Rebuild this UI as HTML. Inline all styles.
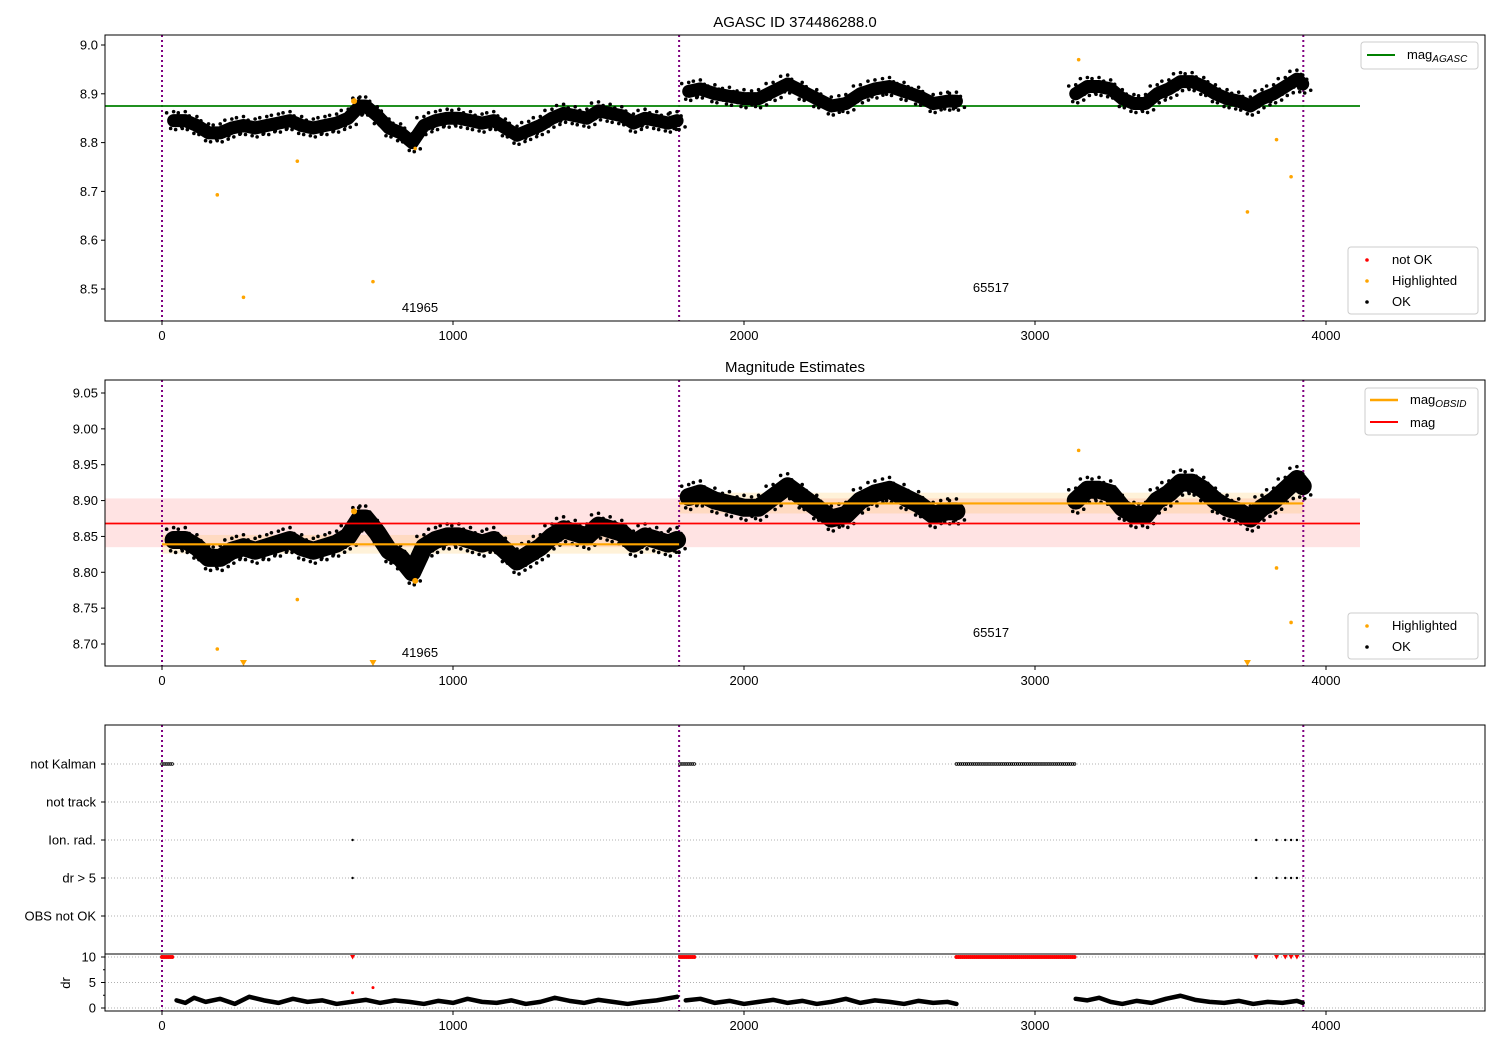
<!DOCTYPE html>
<html><head><meta charset="utf-8">
<style>
html,body{margin:0;padding:0;background:#fff;}
svg{display:block;font-family:"Liberation Sans","DejaVu Sans",sans-serif;}
</style></head>
<body>
<svg id="chart" width="1500" height="1050" viewBox="0 0 1500 1050"></svg>
<script>
// ---- data ----
const seg1X = [40,80,120,160,200,240,280,320,360,400,440,480,520,560,600,640,680,700,740,780,820,860,900,940,980,1020,1060,1100,1140,1180,1220,1260,1300,1340,1380,1420,1460,1500,1540,1580,1620,1660,1700,1740,1770];
const seg1Y = [8.845,8.845,8.835,8.82,8.82,8.83,8.835,8.83,8.835,8.84,8.845,8.835,8.83,8.835,8.84,8.85,8.875,8.875,8.855,8.83,8.82,8.80,8.835,8.845,8.85,8.85,8.845,8.84,8.845,8.83,8.815,8.825,8.835,8.85,8.86,8.855,8.85,8.865,8.86,8.855,8.84,8.85,8.845,8.84,8.845];
const seg2X = [1810,1850,1900,1950,2000,2050,2100,2150,2200,2250,2300,2350,2400,2450,2500,2550,2600,2650,2700,2730];
const seg2Y = [8.905,8.91,8.9,8.895,8.89,8.89,8.905,8.92,8.905,8.89,8.875,8.88,8.9,8.91,8.915,8.905,8.895,8.88,8.885,8.885];
const seg3X = [3140,3180,3220,3260,3300,3340,3380,3420,3460,3500,3540,3580,3620,3660,3700,3740,3780,3820,3860,3900,3920];
const seg3Y = [8.9,8.915,8.915,8.91,8.89,8.88,8.88,8.9,8.91,8.925,8.925,8.915,8.9,8.89,8.885,8.875,8.89,8.9,8.915,8.93,8.92];
const hiX = [190,280,465,725,870,3150,3730,3830,3880];
const hiY = [8.693,8.483,8.762,8.515,8.788,8.97,8.658,8.806,8.73];
const obsBounds = [0,1777,3922];
const obsIds = ["41965","65517"];
const magAgasc = 8.875;
const magMean = 8.868, magLo = 8.835, magHi = 8.903;
const obsMag = [8.839,8.896];
const obsLo = [8.826,8.882];
const obsHi = [8.852,8.911];
const nkRanges = [[0,40],[1780,1830],[2730,3140]];
const ionX = [655,3760,3830,3860,3880,3900];
const drRedX = [655,725];
const drRedY = [3,4];
const drX1 = [50,80,110,150,200,250,300,350,400,450,500,550,600,650,700,750,800,850,900,950,1000,1050,1100,1150,1200,1250,1300,1350,1400,1450,1500,1550,1600,1650,1700,1770];
const drY1 = [1.5,1.0,2.0,1.2,1.8,0.8,2.2,1.5,1.0,1.8,1.2,1.5,0.8,1.2,1.6,1.0,1.5,1.2,0.8,1.4,1.0,1.8,1.2,1.0,1.5,0.8,1.2,2.0,1.4,1.0,1.6,1.2,0.8,1.2,1.5,2.2];
const drX2 = [1800,1850,1900,1950,2000,2050,2100,2150,2200,2250,2300,2350,2400,2450,2500,2550,2600,2650,2700,2730];
const drY2 = [1.5,1.8,1.0,1.4,0.8,1.2,1.6,1.0,1.4,0.8,1.2,1.8,1.0,1.5,1.2,0.8,1.4,1.0,1.2,0.8];
const drX3 = [3140,3180,3220,3260,3300,3350,3400,3450,3500,3550,3600,3650,3700,3750,3800,3850,3900,3920];
const drY3 = [1.8,1.5,2.0,1.2,0.8,1.4,1.0,1.8,2.4,1.6,1.2,1.0,1.4,0.8,1.2,1.0,1.4,1.0];
const xTicks = [0,1000,2000,3000,4000];
const y1Ticks = [8.5,8.6,8.7,8.8,8.9,9.0];
const y2Ticks = [8.70,8.75,8.80,8.85,8.90,8.95,9.00,9.05];
const cats = ["not Kalman","not track","Ion. rad.","dr > 5","OBS not OK"];
const drTicks = [0,5,10];

// ---- helpers ----
const NS="http://www.w3.org/2000/svg";
const svg=document.getElementById('chart');
function mk(tag,attrs,parent){const e=document.createElementNS(NS,tag);for(const k in attrs)e.setAttribute(k,attrs[k]);(parent||svg).appendChild(e);return e;}
function txt(s,x,y,attrs,parent){const e=mk('text',Object.assign({x:x,y:y,'font-size':13,fill:'#000'},attrs||{}),parent);e.textContent=s;return e;}
const L=105,R=1485;
const X=v=>162+v*0.291;
const Y1=v=>45+(9.0-v)*488;
const Y2=v=>393+(9.05-v)*717.1;
const CY=i=>764+i*38;
const DR=v=>1008-v*5.1;

function frame(top,bottom,name){
  const r=mk('rect',{x:L,y:top,width:R-L,height:bottom-top,fill:'none',stroke:'#000','stroke-width':1});
  
  xTicks.forEach(t=>{mk('line',{x1:X(t),x2:X(t),y1:bottom,y2:bottom+4,stroke:'#000'});
    const e=txt(String(t),X(t),bottom+19,{'text-anchor':'middle'});});
}
function vlines(top,bottom){obsBounds.forEach(b=>{const l=mk('line',{x1:X(b),x2:X(b),y1:top,y2:bottom,stroke:'#800080','stroke-width':2,'stroke-dasharray':'2,3'});});}
const offs=[[-7,-1],[-3,1],[4,-0.6],[8,0.8],[0,-1.15],[2,1.15]];
function series(Yf,sw){
  [[seg1X,seg1Y],[seg2X,seg2Y],[seg3X,seg3Y]].forEach(([xs,ys])=>{
    const p=mk('polyline',{points:xs.map((x,i)=>X(x)+','+Yf(ys[i])).join(' '),fill:'none',stroke:'#000','stroke-width':sw,'stroke-linejoin':'round','stroke-linecap':'round'});
    
    xs.forEach((x,i)=>{offs.forEach(o=>{const c=mk('circle',{cx:X(x)+o[0],cy:Yf(ys[i])+o[1]*sw*0.6,r:1.8,fill:'#000'});});});
  });
}
function sublabel(main,sub,x,y,name){const e=mk('text',{x:x,y:y,'font-size':13,fill:'#000'});
  const t1=mk('tspan',{},e);t1.textContent=main;const t2=mk('tspan',{dy:3,'font-size':10,'font-style':'italic'},e);t2.textContent=sub;}

// ---- panel 1 ----
const t1=txt("AGASC ID 374486288.0",795,27,{'text-anchor':'middle','font-size':15});
vlines(35,321);
const ag=mk('line',{x1:L,x2:1360,y1:Y1(magAgasc),y2:Y1(magAgasc),stroke:'#008000','stroke-width':1.8});
series(Y1,13);
hiX.forEach((x,i)=>{const c=mk('circle',{cx:X(x),cy:Y1(hiY[i]),r:1.8,fill:'#ffa500'});});
mk('circle',{cx:X(660),cy:Y1(8.885),r:3,fill:'#ffa500'});
frame(35,321,'panel-agasc-frame');
y1Ticks.forEach(t=>{mk('line',{x1:L-4,x2:L,y1:Y1(t),y2:Y1(t),stroke:'#000'});const e=txt(t.toFixed(1),L-7,Y1(t)+4.5,{'text-anchor':'end'});});
let a=txt(obsIds[0],420,312,{'text-anchor':'middle'});
a=txt(obsIds[1],991,292,{'text-anchor':'middle'});
function legendBox(x,y,w,h,name){const r=mk('rect',{x:x,y:y,width:w,height:h,rx:3,fill:'#fff','fill-opacity':0.8,stroke:'#ccc'});}
legendBox(1361,42,117,27,'legend-agasc');
mk('line',{x1:1367,x2:1395,y1:55,y2:55,stroke:'#008000','stroke-width':2});
sublabel('mag','AGASC',1407,59,'legend-entry-mag-agasc');
function ptLegend(x,y,items,name){legendBox(x,y,130,items.length*21+4,name);
  items.forEach((it,i)=>{mk('circle',{cx:x+19,cy:y+13+i*21,r:1.8,fill:it[1]});const e=txt(it[0],x+44,y+17+i*21,{});});}
ptLegend(1348,247,[['not OK','#ff0000'],['Highlighted','#ffa500'],['OK','#000']],'legend-points-1');

// ---- panel 2 ----
const t2=txt("Magnitude Estimates",795,372,{'text-anchor':'middle','font-size':15});
let b=mk('rect',{x:L,y:Y2(magHi),width:1360-L,height:Y2(magLo)-Y2(magHi),fill:'#ff0000','fill-opacity':0.11});
[0,1].forEach(i=>{const r=mk('rect',{x:X(obsBounds[i]),y:Y2(obsHi[i]),width:X(obsBounds[i+1])-X(obsBounds[i]),height:Y2(obsLo[i])-Y2(obsHi[i]),fill:'#ffa500','fill-opacity':0.15});});
vlines(380,666);
series(Y2,18);
[0,1].forEach(i=>{const l=mk('line',{x1:X(obsBounds[i]),x2:X(obsBounds[i+1]),y1:Y2(obsMag[i]),y2:Y2(obsMag[i]),stroke:'#ffa500','stroke-width':2.2});});
const ml=mk('line',{x1:L,x2:1360,y1:Y2(magMean),y2:Y2(magMean),stroke:'#ff0000','stroke-width':1.8});
hiX.forEach((x,i)=>{
  if(hiY[i]>=8.67){const c=mk('circle',{cx:X(x),cy:Y2(hiY[i]),r:1.8,fill:'#ffa500'});}
  else{const yy=663;const p=mk('polygon',{points:`${X(x)-3.5},${yy-3} ${X(x)+3.5},${yy-3} ${X(x)},${yy+3}`,fill:'#ffa500'});}
});
mk('circle',{cx:X(660),cy:Y2(8.885),r:3,fill:'#ffa500'});
mk('circle',{cx:X(870),cy:Y2(8.788),r:3,fill:'#ffa500'});
frame(380,666,'panel-estimates-frame');
y2Ticks.forEach(t=>{mk('line',{x1:L-4,x2:L,y1:Y2(t),y2:Y2(t),stroke:'#000'});const e=txt(t.toFixed(2),L-7,Y2(t)+4.5,{'text-anchor':'end'});});
a=txt(obsIds[0],420,657,{'text-anchor':'middle'});
a=txt(obsIds[1],991,637,{'text-anchor':'middle'});
legendBox(1365,388,113,47,'legend-estimates');
mk('line',{x1:1370,x2:1398,y1:400,y2:400,stroke:'#ffa500','stroke-width':2.5});
sublabel('mag','OBSID',1410,404,'legend-entry-mag-obsid');
mk('line',{x1:1370,x2:1398,y1:422,y2:422,stroke:'#ff0000','stroke-width':2});
a=txt('mag',1410,427,{});
ptLegend(1348,613,[['Highlighted','#ffa500'],['OK','#000']],'legend-points-2');

// ---- panel 3 ----
cats.forEach((c,i)=>{mk('line',{x1:L,x2:R,y1:CY(i),y2:CY(i),stroke:'#b0b0b0','stroke-dasharray':'1,2'});
  mk('line',{x1:L-4,x2:L,y1:CY(i),y2:CY(i),stroke:'#000'});
  const e=txt(c,96,CY(i)+4.5,{'text-anchor':'end'});});
drTicks.forEach(t=>{mk('line',{x1:L,x2:R,y1:DR(t),y2:DR(t),stroke:'#b0b0b0','stroke-dasharray':'1,2'});
  mk('line',{x1:L-4,x2:L,y1:DR(t),y2:DR(t),stroke:'#000'});
  const e=txt(String(t),96,DR(t)+4.5,{'text-anchor':'end'});});
[2.5,7.5].forEach(t=>mk('line',{x1:L-2,x2:L,y1:DR(t),y2:DR(t),stroke:'#000'}));
a=txt('dr',70,983,{'text-anchor':'middle',transform:'rotate(-90 70 983)'});
vlines(725,1011);
nkRanges.forEach(r=>{for(let v=r[0];v<=r[1];v+=7){
  const c=mk('circle',{cx:X(v),cy:CY(0),r:1.3,fill:'none',stroke:'#000','stroke-width':0.8});
  const d=mk('circle',{cx:X(v),cy:DR(10),r:2,fill:'#ff0000'});}});
ionX.forEach(x=>{[2,3].forEach(i=>{const c=mk('circle',{cx:X(x),cy:CY(i),r:1.2,fill:'#000'});});
  const d=mk('polygon',{points:`${X(x)-2.5},${DR(10)-2} ${X(x)+2.5},${DR(10)-2} ${X(x)},${DR(10)+2.5}`,fill:'#ff0000'});});
drRedX.forEach((x,i)=>{const c=mk('circle',{cx:X(x),cy:DR(drRedY[i]),r:1.5,fill:'#ff0000'});});
[[drX1,drY1],[drX2,drY2],[drX3,drY3]].forEach(([xs,ys])=>{const p=mk('polyline',{points:xs.map((x,i)=>X(x)+','+DR(ys[i])).join(' '),fill:'none',stroke:'#000','stroke-width':4.5,'stroke-linejoin':'round','stroke-linecap':'round'});});
mk('line',{x1:L,x2:R,y1:954,y2:954,stroke:'#000'});
frame(725,1011,'panel-flags-frame');
</script>
</body></html>
